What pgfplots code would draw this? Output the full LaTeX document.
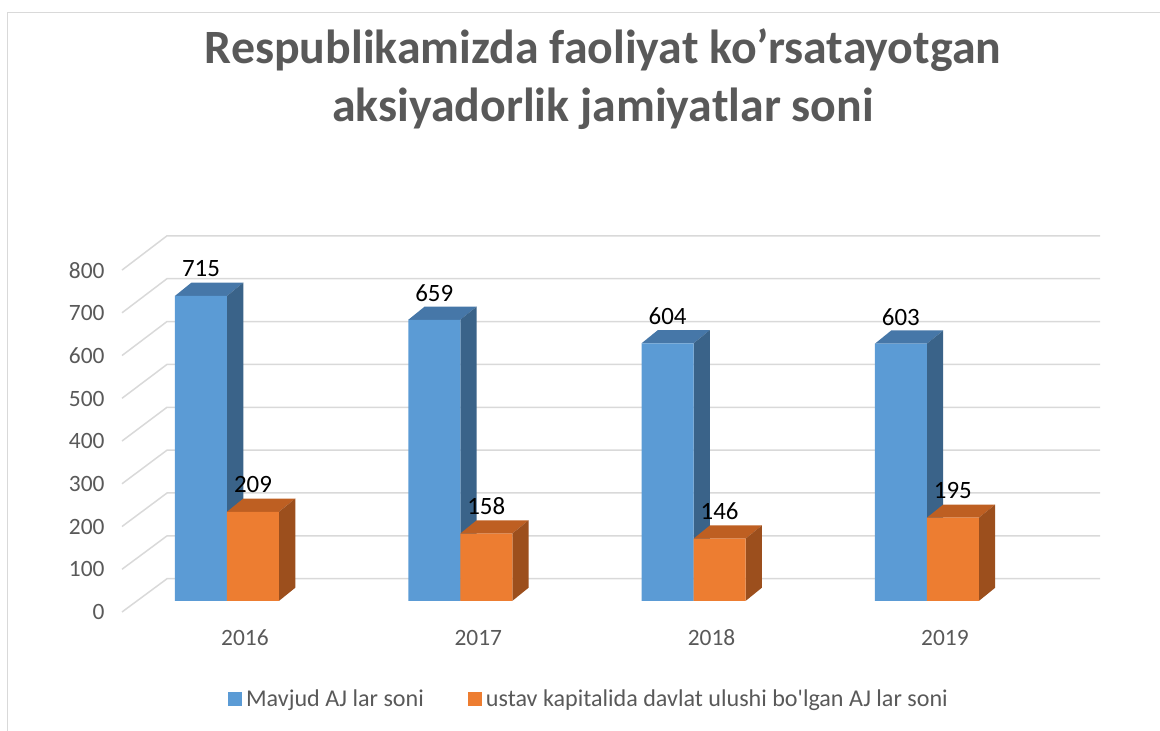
\documentclass[border=0pt]{standalone}
\usepackage{pgfplots}
\usepackage{pgfplotstable}
\usetikzlibrary{calc}
\pgfplotsset{compat=1.18}
\usepackage{fontspec}
\setmainfont{Carlito}
\newfontfamily\plainfont{Carlito}
\definecolor{bfront}{HTML}{5B9BD5}
\definecolor{btop}{HTML}{4677A8}
\definecolor{bside}{HTML}{3A6389}
\definecolor{ofront}{HTML}{ED7D31}
\definecolor{otop}{HTML}{BE5F22}
\definecolor{oside}{HTML}{9C4F1D}
\definecolor{gridc}{HTML}{D9D9D9}
\definecolor{txt}{HTML}{595959}
\pgfplotstableread{
x a b
0 715 209
1 659 158
2 604 146
3 603 195
}\data
\def\bw{0.2229}
\def\ddx{0.07}
\def\ddy{31}
\newcommand\barfaces[4]{%
  \pgfmathsetmacro\xA{#1}%
  \pgfmathsetmacro\xB{#1+\bw}%
  \pgfmathsetmacro\xC{#1+\ddx}%
  \pgfmathsetmacro\xD{#1+\bw+\ddx}%
  \pgfmathsetmacro\yA{#2}%
  \pgfmathsetmacro\yB{#2+\ddy}%
  \edef\tmp{\noexpand\addplot[fill=#3,draw=none,forget plot] coordinates {(\xA,\yA) (\xC,\yB) (\xD,\yB) (\xB,\yA)} --cycle;
  \noexpand\addplot[fill=#4,draw=none,forget plot] coordinates {(\xB,0) (\xD,\ddy) (\xD,\yB) (\xB,\yA)} --cycle;}%
  \tmp}
\begin{document}
\begin{tikzpicture}
\begin{axis}[name=ax, anchor=south west, scale only axis,
  width=978bp, height=374.5bp,
  xmin=-0.45, xmax=3.742, ymin=-26, ymax=852, clip=false,
  axis line style={draw=none}, major tick length=0,
  /pgf/number format/assume math mode=true,
  ytick={-26,74,174,274,374,474,574,674,774},
  yticklabels={0,100,200,300,400,500,600,700,800},
  yticklabel style={font=\fontsize{23.5}{28}\selectfont, text=txt, xshift=-14bp},
  xtick={0.077,1.077,2.077,3.077},
  xticklabels={2016,2017,2018,2019},
  xticklabel style={font=\fontsize{23.5}{28}\selectfont, text=txt, anchor=center, yshift=-26bp},
  legend columns=2,
  legend style={draw=none, fill=none, at={(0.4785,-0.232)}, anchor=center,
    font=\plainfont\fontsize{24.2}{28}\selectfont, text=txt,
    /tikz/every even column/.append style={column sep=40bp},
    nodes={inner xsep=4bp}},
  legend image code/.code={\fill[#1] (0bp,-7bp) rectangle (14bp,7bp);},
]
\pgfplotsinvokeforeach{0,100,200,300,400,500,600,700,800}{%
  \pgfmathsetmacro\yf{-26+1.002*#1}%
  \pgfmathsetmacro\yb{52+1.005*#1}%
  \edef\tmp{\noexpand\addplot[gridc, line width=1.5bp, forget plot] coordinates {(-0.45,\yf) (-0.257,\yb) (3.742,\yb)};}%
  \tmp}
% blue bars 3D faces
\pgfplotsinvokeforeach{0,1,2,3}{%
  \pgfplotstablegetelem{#1}{a}\of\data
  \edef\va{\pgfplotsretval}%
  \barfaces{#1-\bw}{\va}{btop}{bside}}
\addplot[ybar, bar width=52bp, bar shift=-26bp, fill=bfront, draw=none,
  nodes near coords, every node near coord/.append style={anchor=center, xshift=-26bp, yshift=27bp, font=\fontsize{25}{30}\selectfont, text=black}]
  table[x=x, y=a] {\data};
\addlegendentry{Mavjud AJ lar soni}
% orange bars 3D faces
\pgfplotsinvokeforeach{0,1,2,3}{%
  \pgfplotstablegetelem{#1}{b}\of\data
  \edef\va{\pgfplotsretval}%
  \barfaces{#1}{\va}{otop}{oside}}
\addplot[ybar, bar width=52bp, bar shift=26bp, fill=ofront, draw=none,
  nodes near coords, every node near coord/.append style={anchor=center, xshift=26bp, yshift=27bp, font=\fontsize{25}{30}\selectfont, text=black}]
  table[x=x, y=b] {\data};
\addlegendentry{ustav kapitalida davlat ulushi bo'lgan AJ lar soni}
\end{axis}
\pgfresetboundingbox
\begin{scope}[x=1bp, y=1bp, shift={($(ax.south west)+(-122bp,-119bp)$)}]
\path[use as bounding box] (0,0) rectangle (1160,731);
\draw[gridc, line width=1.5bp] (7.5,0) -- (7.5,718.5) -- (1160,718.5);
\node[font=\fontsize{48}{58.5}\selectfont\bfseries, text=txt, align=center] at (603,652) {Respublikamizda faoliyat ko’rsatayotgan\\aksiyadorlik jamiyatlar soni};
\end{scope}
\end{tikzpicture}
\end{document}
